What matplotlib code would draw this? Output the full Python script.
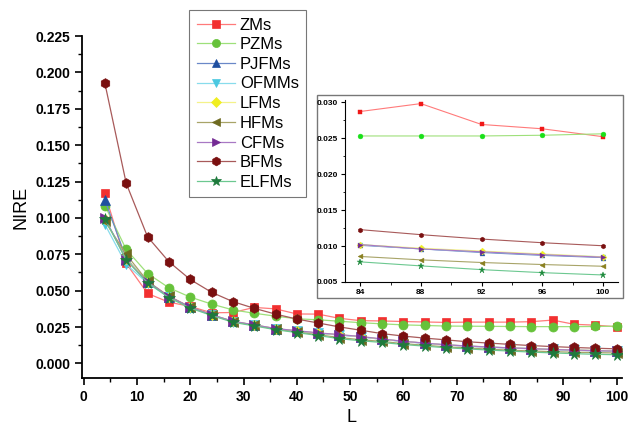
import matplotlib
matplotlib.use("Agg")
import matplotlib.pyplot as plt
from matplotlib.ticker import MultipleLocator, FormatStrFormatter
from matplotlib.patches import Rectangle

plt.rcParams['font.family'] = ['Liberation Sans', 'DejaVu Sans']

L = [4, 8, 12, 16, 20, 24, 28, 32, 36, 40, 44, 48, 52, 56, 60, 64, 68, 72, 76, 80, 84, 88, 92, 96, 100]

ZMs = [0.1168, 0.0687, 0.0481, 0.0421, 0.0392, 0.0348, 0.0350, 0.0385, 0.0375, 0.0340, 0.0339, 0.0310, 0.0294,
       0.0292, 0.0288, 0.0285, 0.0282, 0.0284, 0.0284, 0.0284, 0.0287, 0.0298, 0.0269, 0.0263, 0.0252]
PZMs = [0.1085, 0.0783, 0.0618, 0.0520, 0.0456, 0.0408, 0.0368, 0.0345, 0.0325, 0.0307, 0.0300, 0.0290, 0.0280,
        0.0272, 0.0265, 0.0261, 0.0257, 0.0256, 0.0255, 0.0254, 0.0253, 0.0253, 0.0253, 0.0254, 0.0256]
PJFMs = [0.1122, 0.0720, 0.0563, 0.0458, 0.0386, 0.0334, 0.0289, 0.0264, 0.0239, 0.0223, 0.0208, 0.0196, 0.0183,
         0.0166, 0.0151, 0.0139, 0.0127, 0.0119, 0.0112, 0.0106, 0.0101, 0.0096, 0.0091, 0.0087, 0.0084]
OFMMs = [0.0955, 0.0680, 0.0552, 0.0455, 0.0384, 0.0333, 0.0288, 0.0263, 0.0238, 0.0222, 0.0207, 0.0195, 0.0182,
         0.0166, 0.0151, 0.0139, 0.0127, 0.0119, 0.0112, 0.0107, 0.0102, 0.0096, 0.0092, 0.0088, 0.0085]
LFMs = [0.0990, 0.0720, 0.0560, 0.0460, 0.0387, 0.0335, 0.0290, 0.0265, 0.0240, 0.0224, 0.0209, 0.0197, 0.0184,
        0.0167, 0.0152, 0.0140, 0.0128, 0.0120, 0.0113, 0.0107, 0.0102, 0.0097, 0.0093, 0.0089, 0.0085]
HFMs = [0.0978, 0.0749, 0.0565, 0.0462, 0.0388, 0.0334, 0.0287, 0.0262, 0.0236, 0.0216, 0.0197, 0.0178, 0.0163,
        0.0151, 0.0136, 0.0125, 0.0114, 0.0106, 0.0098, 0.0091, 0.00855, 0.00808, 0.00771, 0.00743, 0.00719]
CFMs = [0.1000, 0.0712, 0.0560, 0.0460, 0.0387, 0.0335, 0.0290, 0.0265, 0.0240, 0.0225, 0.0210, 0.0198, 0.0185,
        0.0168, 0.0152, 0.0140, 0.0128, 0.0120, 0.0113, 0.0107, 0.0102, 0.0096, 0.0092, 0.0088, 0.00845]
BFMs = [0.1924, 0.1237, 0.0870, 0.0699, 0.0577, 0.0489, 0.0425, 0.0379, 0.0339, 0.0305, 0.0278, 0.0251, 0.0228,
        0.0205, 0.0188, 0.0174, 0.0162, 0.0149, 0.0140, 0.0131, 0.01228, 0.01158, 0.01097, 0.01046, 0.01004]
ELFMs = [0.0994, 0.0710, 0.0555, 0.0452, 0.0380, 0.0330, 0.0283, 0.0258, 0.0232, 0.0212, 0.0192, 0.0170, 0.0156,
         0.0144, 0.0130, 0.0119, 0.0108, 0.0100, 0.0092, 0.0085, 0.0078, 0.00724, 0.00672, 0.0063, 0.00598]

names = ['ZMs', 'PZMs', 'PJFMs', 'OFMMs', 'LFMs', 'HFMs', 'CFMs', 'BFMs', 'ELFMs']
series = [ZMs, PZMs, PJFMs, OFMMs, LFMs, HFMs, CFMs, BFMs, ELFMs]
markers = ['s', 'o', '^', 'v', 'D', '<', '>', 'h', '*']
mcolors = ['#f23030', '#66c23a', '#1f4fa0', '#4ac8e0', '#f0ee20', '#6e6a20', '#742a94', '#7a1010', '#1e7a3c']
lcolors = ['#ff7a7a', '#9ee07a', '#6a88c8', '#88dcec', '#f4f28a', '#a8a468', '#a878c4', '#a85a5a', '#6cc890']
msizes = [5.8, 6.5, 6.5, 6.5, 5.2, 6.5, 6.5, 7, 8.5]
inset_mcolors = ['#f01818', '#18e018', '#1f4fa0', '#4ac8e0', '#f0ee20', '#8a8020', '#742a94', '#7a1010', '#1e8a3c']

fig = plt.figure(figsize=(6.28, 4.32), dpi=100)
ax = fig.add_axes([82/628, 1-378/432, 540/628, 342/432])

handles = []
for name, y, m, mc, lc, ms in zip(names, series, markers, mcolors, lcolors, msizes):
    h, = ax.plot(L, y, color=lc, lw=0.9, marker=m, markersize=ms, markerfacecolor=mc,
                 markeredgecolor=mc, markeredgewidth=0.5, label=name)
    handles.append(h)

ax.set_xlim(-0.3, 101)
ax.set_ylim(-0.01, 0.225)
ax.xaxis.set_major_locator(MultipleLocator(10))
ax.xaxis.set_minor_locator(MultipleLocator(5))
ax.yaxis.set_major_locator(MultipleLocator(0.025))
ax.yaxis.set_minor_locator(MultipleLocator(0.0125))
ax.yaxis.set_major_formatter(FormatStrFormatter('%.3f'))
for s in ['top', 'right']:
    ax.spines[s].set_visible(False)
for s in ['left', 'bottom']:
    ax.spines[s].set_linewidth(1.3)
ax.tick_params(which='major', direction='out', length=5, width=1.2, labelsize=10)
ax.tick_params(which='minor', direction='out', length=3, width=1.0)
for lab in ax.get_xticklabels() + ax.get_yticklabels():
    lab.set_fontweight('bold')
ax.set_xlabel('L', fontsize=13)
ax.set_ylabel('NIRE', fontsize=13)

leg = fig.legend(handles=handles, loc='upper left', bbox_to_anchor=(189/628, 1-10/432),
                 fontsize=12, frameon=True, fancybox=False, edgecolor='#555555',
                 handlelength=2.3, handletextpad=0.3, labelspacing=0.28, borderpad=0.45,
                 borderaxespad=0.0, markerscale=0.9)
leg.get_frame().set_linewidth(0.8)

# grey frame around inset
fig.patches.append(Rectangle((317/628, 1-298/432), 306/628, 203/432, transform=fig.transFigure,
                             facecolor='white', edgecolor='#777777', lw=1.0, zorder=5))

ins = fig.add_axes([345/628, 1-282/432, 273/628, 182/432], zorder=6)
ins.patch.set_alpha(0)
mask = [i for i, v in enumerate(L) if v >= 84]
for name, y, m, mc, lc in zip(names, series, markers, inset_mcolors, lcolors):
    ins.plot([L[i] for i in mask], [y[i] for i in mask], color=lc, lw=0.8, marker=m,
             markersize=3.5 if m != '*' else 4.5, markerfacecolor=mc, markeredgecolor=mc,
             markeredgewidth=0.3)
ins.set_xlim(83, 101)
ins.set_ylim(0.005, 0.0303)
ins.xaxis.set_major_locator(MultipleLocator(4))
ins.xaxis.set_minor_locator(MultipleLocator(2))
ins.yaxis.set_major_locator(MultipleLocator(0.005))
ins.yaxis.set_minor_locator(MultipleLocator(0.0025))
ins.yaxis.set_major_formatter(FormatStrFormatter('%.3f'))
for s in ['top', 'right']:
    ins.spines[s].set_visible(False)
ins.tick_params(which='major', direction='out', length=3, width=0.8, labelsize=6, pad=2)
ins.tick_params(which='minor', direction='out', length=1.8, width=0.6)
for lab in ins.get_xticklabels() + ins.get_yticklabels():
    lab.set_fontweight('bold')

fig.savefig('out.png', dpi=100)
